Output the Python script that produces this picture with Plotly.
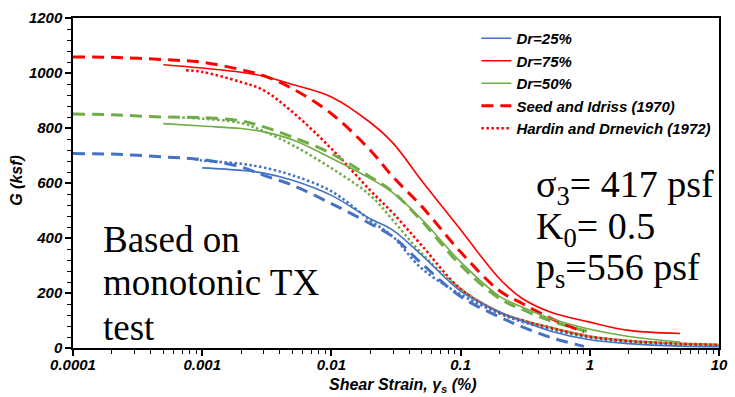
import plotly.graph_objects as go

# ---------------- data ----------------
x_dr75 = [0.0005, 0.001, 0.002, 0.003, 0.005, 0.01, 0.02, 0.03, 0.05, 0.1, 0.2, 0.3, 0.5, 1, 2, 5]
g_dr75 = [1030, 1018, 1003, 988, 958, 913, 820, 745, 608, 430, 252, 180, 130, 94, 64, 53]

x_si75 = [0.0001, 0.0002, 0.0005, 0.001, 0.002, 0.003, 0.005, 0.01, 0.02, 0.03, 0.05, 0.1, 0.2, 0.3, 0.5, 0.9]
g_si75 = [1058, 1057, 1049, 1039, 1012, 990, 943, 852, 719, 622, 515, 349, 208, 162, 108, 58]

x_hd75 = [0.00075, 0.001, 0.002, 0.003, 0.005, 0.01, 0.02, 0.03, 0.05, 0.1, 0.2, 0.3, 0.5, 1, 2, 5, 10]
g_hd75 = [1010, 1004, 967, 937, 858, 725, 573, 490, 373, 215, 130, 101, 74, 42, 26, 16, 12]

x_dr50 = [0.0005, 0.001, 0.002, 0.003, 0.005, 0.01, 0.02, 0.03, 0.05, 0.1, 0.2, 0.3, 0.5, 1, 2, 5]
g_dr50 = [816, 807, 798, 786, 757, 690, 616, 564, 468, 313, 188, 149, 107, 68, 42, 22]

x_si50 = [0.0001, 0.0002, 0.0005, 0.001, 0.002, 0.003, 0.005, 0.01, 0.02, 0.03, 0.05, 0.1, 0.2, 0.3, 0.5, 1]
g_si50 = [851, 848, 840, 838, 826, 804, 767, 707, 622, 567, 462, 301, 180, 140, 98, 58]

x_hd50 = [0.0007, 0.001, 0.002, 0.003, 0.005, 0.01, 0.02, 0.03, 0.05, 0.1, 0.2, 0.3, 0.5, 1, 2, 5, 10]
g_hd50 = [838, 834, 818, 788, 738, 654, 555, 464, 344, 215, 130, 101, 74, 42, 26, 16, 12]

x_dr25 = [0.001, 0.002, 0.003, 0.005, 0.01, 0.02, 0.03, 0.05, 0.1, 0.2, 0.3, 0.5, 1, 2, 5, 10]
g_dr25 = [655, 646, 636, 610, 555, 470, 428, 338, 207, 131, 98, 61, 30, 16, 7, 5]

x_si25 = [0.0001, 0.0002, 0.0005, 0.001, 0.002, 0.003, 0.005, 0.01, 0.02, 0.03, 0.05, 0.1, 0.2, 0.3, 0.5, 0.9]
g_si25 = [707, 705, 695, 685, 658, 628, 592, 525, 452, 404, 307, 187, 113, 77, 38, 6]

x_hd25 = [0.0008, 0.001, 0.002, 0.003, 0.005, 0.01, 0.02, 0.03, 0.05, 0.1, 0.2, 0.3, 0.5, 1, 2, 5, 10]
g_hd25 = [690, 682, 670, 656, 628, 570, 464, 404, 289, 195, 125, 95, 68, 38, 22, 12, 8]

x_tickvals = [0.0001, 0.001, 0.01, 0.1, 1, 10]
x_ticktext = ["0.0001", "0.001", "0.01", "0.1", "1", "10"]

# ---------------- style ----------------
RED = "#FF0000"
GREEN = "#70AD47"
BLUE = "#4472C4"
DASH = "12px,7px"
DOT = "2.5px,2.5px"
SANS = "Liberation Sans"
SERIF = "Liberation Serif"

W, H = 735, 397
L, R, T, B = 73, 7, 18, 49
PW, PH = W - L - R, H - T - B


def px2x(px):
    return (px - L) / PW


def py2y(py):
    return (H - B - py) / PH


fig = go.Figure()


def add(x, y, color, dash, width, name, show, rank):
    fig.add_trace(go.Scatter(
        x=x, y=y, mode="lines", name=name, showlegend=show, legendrank=rank,
        line=dict(color=color, dash=dash, width=width, shape="spline", smoothing=1.0),
        hoverinfo="skip",
    ))


# dotted (Hardin and Drnevich)
add(x_hd25, g_hd25, BLUE, DOT, 2.5, "hd25", False, 100)
add(x_hd50, g_hd50, GREEN, DOT, 2.5, "hd50", False, 100)
add(x_hd75, g_hd75, RED, DOT, 2.5, "Hardin and Drnevich (1972)", True, 5)
# dashed (Seed and Idriss)
add(x_si25, g_si25, BLUE, DASH, 3, "si25", False, 100)
add(x_si50, g_si50, GREEN, DASH, 3, "si50", False, 100)
add(x_si75, g_si75, RED, DASH, 3, "Seed and Idriss (1970)", True, 4)
# solid (measured)
add(x_dr25, g_dr25, BLUE, "solid", 1.6, "Dr=25%", True, 1)
add(x_dr75, g_dr75, RED, "solid", 1.6, "Dr=75%", True, 2)
add(x_dr50, g_dr50, GREEN, "solid", 1.6, "Dr=50%", True, 3)

tickfont = dict(family=SANS, size=15, color="black", weight="bold", style="italic")

minor_x = [k * 10.0 ** e for e in range(-4, 1) for k in range(2, 10)]

fig.update_xaxes(
    type="log", range=[-4, 1], tickvals=x_tickvals, ticktext=x_ticktext,
    ticks="outside", ticklen=6, tickwidth=1.5, tickcolor="black",
    showline=True, linecolor="black", linewidth=1.5, mirror=True,
    showgrid=False, zeroline=False, tickfont=tickfont, ticklabelstandoff=-4,
    minor=dict(tickvals=minor_x, ticks="outside", ticklen=4, tickwidth=1, tickcolor="black", showgrid=False),
)
fig.update_yaxes(
    range=[0, 1200], dtick=200, tick0=0,
    ticks="outside", ticklen=6, tickwidth=1.5, tickcolor="black",
    showline=True, linecolor="black", linewidth=1.5, mirror=True,
    showgrid=False, zeroline=False, tickfont=tickfont,
    minor=dict(dtick=40, ticks="outside", ticklen=4, tickwidth=1, tickcolor="black", showgrid=False),
)

titlefont = dict(family=SANS, size=16, color="black", weight="bold", style="italic")
serif = dict(family=SERIF, size=37, color="black")
serif_r = dict(family=SERIF, size=38, color="black")

annotations = [
    dict(text="Shear Strain, γ<sub>s</sub> (%)", x=px2x(408), y=py2y(385), font=titlefont,
         xanchor="center", yanchor="middle"),
    dict(text="G (ksf)", x=px2x(15), y=py2y(180), font=titlefont, textangle=-90,
         xanchor="center", yanchor="middle"),
    dict(text="Based on", x=px2x(101), y=py2y(239), font=serif, xanchor="left", yanchor="middle"),
    dict(text="monotonic TX", x=px2x(101), y=py2y(282), font=serif, xanchor="left", yanchor="middle"),
    dict(text="test", x=px2x(101), y=py2y(327), font=serif, xanchor="left", yanchor="middle"),
    dict(text="σ<sub>3</sub>= 417 psf", x=px2x(540), y=py2y(187), font=serif_r, xanchor="left", yanchor="middle"),
    dict(text="K<sub>0</sub>= 0.5", x=px2x(540), y=py2y(229), font=serif_r, xanchor="left", yanchor="middle"),
    dict(text="p<sub>s</sub>=556 psf", x=px2x(540), y=py2y(270), font=serif_r, xanchor="left", yanchor="middle"),
]
for a in annotations:
    a.update(xref="paper", yref="paper", showarrow=False)

fig.update_layout(
    width=W, height=H, margin=dict(l=L, r=R, t=T, b=B),
    paper_bgcolor="white", plot_bgcolor="white",
    annotations=annotations,
    legend=dict(
        x=px2x(482), y=py2y(22), xanchor="left", yanchor="top",
        bgcolor="rgba(255,255,255,0)", borderwidth=0,
        font=dict(family=SANS, size=15, color="black", weight="bold", style="italic"),
        tracegroupgap=0,
    ),
)

fig.write_html("out.html")
